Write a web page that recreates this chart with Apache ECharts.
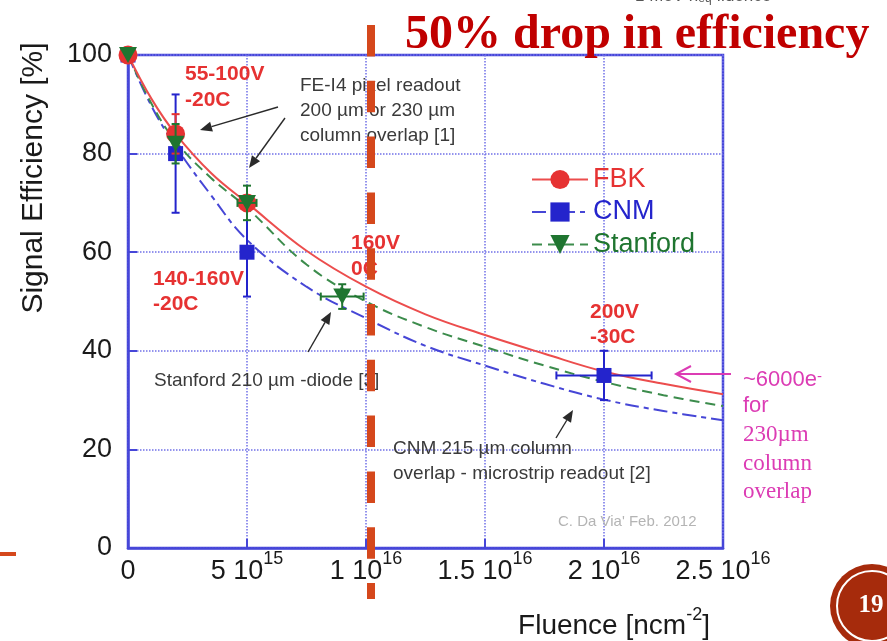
<!DOCTYPE html>
<html><head><meta charset="utf-8">
<script src="https://cdn.jsdelivr.net/npm/echarts@6/dist/echarts.min.js"></script>
<style>html,body{margin:0;padding:0;background:#fff}#c{width:887px;height:641px}</style>
</head><body><div id="c"></div>
<script>
// ---- axis ticks ----
const xTicks = [0, 5e15, 1e16, 1.5e16, 2e16, 2.5e16];
const xTickMantissa = ['0', '5', '1', '1.5', '2', '2.5'];
const xTickExponent = ['', '15', '16', '16', '16', '16'];
const yTicks = [0, 20, 40, 60, 80, 100];

// ---- fitted curves ----
const fitX        = [0, 1e15, 2e15, 3.5e15, 5e15, 7.5e15, 1e16, 1.25e16, 1.5e16, 1.75e16, 2e16, 2.25e16, 2.5e16];
const fbkFit      = [100, 91, 84, 76, 70, 60.3, 53, 47.4, 43.2, 39.4, 35.8, 33.3, 31.2];
const stanfordFit = [100, 90, 82.5, 75, 69, 57.5, 50, 44.8, 40.8, 37, 33.7, 31, 28.8];
const cnmFit      = [100, 89.5, 81.5, 71.5, 62.5, 53, 46.6, 41, 37, 33.3, 30.1, 27.8, 25.9];

// ---- measured points ----
const fbkX = [0, 2e15, 5e15];
const fbkY = [100, 84, 70];
const fbkYErr = [0, 4, 0];
const fbkXErr = [0, 0, 0];

const cnmX = [0, 2e15, 5e15, 2e16];
const cnmY = [100, 80, 60, 35];
const cnmYErr = [0, 12, 9, 5];
const cnmXErr = [0, 0, 2.5e14, 2e15];

const stanX = [0, 2e15, 5e15, 9e15];
const stanY = [100, 82, 70, 51];
const stanYErr = [0, 4, 3.5, 2.5];
const stanXErr = [0, 0, 4e14, 9e14];

const SANS = '"Liberation Sans", Arial, sans-serif';
const SERIF = '"Liberation Serif", "Times New Roman", serif';
const RED = '#e63232', BLUE = '#2424cc', GREEN = '#1f7530';
const FIT_RED = '#ec4d4d', FIT_BLUE = '#4646d6', FIT_GREEN = '#3c8c4c';
const AXIS = '#4646d8', GRIDC = '#7070e8';
const ORANGE = '#d5481c', MAGENTA = '#dc3cb4', NOTE = '#3a3a3a';

const zip = (xs, ys) => xs.map((x, i) => [x, ys[i]]);
const zip4 = (xs, ys, ey, ex) => xs.map((x, i) => [x, ys[i], ey[i], ex[i]]);

function errorBars(color) {
  return function (params, api) {
    const x = api.value(0), y = api.value(1), ey = api.value(2), ex = api.value(3);
    const c = api.coord([x, y]);
    const kids = [];
    const cap = 4;
    const st = { stroke: color, lineWidth: 2 };
    if (ey > 0) {
      const t = api.coord([x, y + ey]), b = api.coord([x, y - ey]);
      kids.push({ type: 'line', shape: { x1: c[0], y1: t[1], x2: c[0], y2: b[1] }, style: st });
      kids.push({ type: 'line', shape: { x1: c[0] - cap, y1: t[1], x2: c[0] + cap, y2: t[1] }, style: st });
      kids.push({ type: 'line', shape: { x1: c[0] - cap, y1: b[1], x2: c[0] + cap, y2: b[1] }, style: st });
    }
    if (ex > 0) {
      const l = api.coord([x - ex, y]), r = api.coord([x + ex, y]);
      kids.push({ type: 'line', shape: { x1: l[0], y1: c[1], x2: r[0], y2: c[1] }, style: st });
      kids.push({ type: 'line', shape: { x1: l[0], y1: c[1] - cap, x2: l[0], y2: c[1] + cap }, style: st });
      kids.push({ type: 'line', shape: { x1: r[0], y1: c[1] - cap, x2: r[0], y2: c[1] + cap }, style: st });
    }
    return { type: 'group', children: kids };
  };
}

function arrow(x1, y1, x2, y2, color, len, half, open) {
  const a = Math.atan2(y2 - y1, x2 - x1);
  const bx = x2 - len * Math.cos(a), by = y2 - len * Math.sin(a);
  const px = -Math.sin(a) * half, py = Math.cos(a) * half;
  const items = [];
  items.push({ type: 'line', shape: { x1, y1, x2: open ? x2 : bx, y2: open ? y2 : by }, style: { stroke: color, lineWidth: open ? 2 : 1.4 }, z: 50 });
  if (open) {
    items.push({ type: 'polyline', shape: { points: [[bx + px, by + py], [x2, y2], [bx - px, by - py]] }, style: { stroke: color, lineWidth: 2, fill: null }, z: 50 });
  } else {
    items.push({ type: 'polygon', shape: { points: [[x2, y2], [bx + px, by + py], [bx - px, by - py]] }, style: { fill: color }, z: 50 });
  }
  return items;
}

function txt(x, y, text, font, fill, extra) {
  return Object.assign({ type: 'text', x, y, z: 40, style: Object.assign({ text, font, fill, align: 'left', verticalAlign: 'middle' }, extra || {}) });
}

const triDown = 'path://M0,0 L10,0 L5,9 Z';

const graphics = [
  // title
  txt(405, 36, '50% drop in efficiency', 'bold 48px ' + SERIF, '#c00000'),
  { type: 'text', x: 635, y: -4, z: 40, style: { text: '1 MeV n{s|eq} fluence', font: '17px ' + SANS, fill: '#555', verticalAlign: 'middle', rich: { s: { fontSize: 12, fill: '#555', verticalAlign: 'bottom', lineHeight: 10, padding: [0, 0, 0, 0] } } } },
  // axis titles
  { type: 'text', x: 34, y: 178, rotation: Math.PI / 2, z: 40, style: { text: 'Signal Efficiency [%]', font: '30px ' + SANS, fill: '#1a1a1a', align: 'center', verticalAlign: 'middle' } },
  { type: 'text', x: 614, y: 626, z: 40, style: { text: '{b|Fluence [ncm}{s|-2}{b|]}', align: 'center', verticalAlign: 'middle', rich: { b: { fontSize: 28, fontFamily: SANS, fill: '#1a1a1a', lineHeight: 40 }, s: { fontSize: 18, fontFamily: SANS, fill: '#1a1a1a', verticalAlign: 'top', lineHeight: 18 } } } },
  // red condition labels
  txt(185, 74, '55-100V', 'bold 21px ' + SANS, RED),
  txt(185, 100, '-20C', 'bold 21px ' + SANS, RED),
  txt(153, 279, '140-160V', 'bold 21px ' + SANS, RED),
  txt(153, 304, '-20C', 'bold 21px ' + SANS, RED),
  txt(351, 243, '160V', 'bold 21px ' + SANS, RED),
  txt(351, 269, '0C', 'bold 21px ' + SANS, RED),
  txt(590, 312, '200V', 'bold 21px ' + SANS, RED),
  txt(590, 337, '-30C', 'bold 21px ' + SANS, RED),
  // notes
  txt(300, 86, 'FE-I4 pixel readout', '19px ' + SANS, NOTE),
  txt(300, 111, '200 \u00b5m or 230 \u00b5m', '19px ' + SANS, NOTE),
  txt(300, 136, 'column overlap [1]', '19px ' + SANS, NOTE),
  txt(154, 381, 'Stanford 210 \u00b5m -diode [3]', '19px ' + SANS, NOTE),
  txt(393, 449, 'CNM 215 \u00b5m column', '19px ' + SANS, NOTE),
  txt(393, 474, 'overlap - microstrip readout [2]', '19px ' + SANS, NOTE),
  txt(558, 522, "C. Da Via' Feb. 2012", '15px ' + SANS, '#b4b4b4'),
  // magenta notes
  { type: 'text', x: 743, y: 380, z: 40, style: { text: '~6000e{s|-}', font: '22px ' + SANS, fill: MAGENTA, verticalAlign: 'middle', rich: { s: { fontSize: 15, fill: MAGENTA, verticalAlign: 'top', lineHeight: 12 } } } },
  txt(743, 406, 'for', '22px ' + SANS, MAGENTA),
  txt(743, 435, '230\u00b5m', '23px ' + SERIF, MAGENTA),
  txt(743, 464, 'column', '23px ' + SERIF, MAGENTA),
  txt(743, 492, 'overlap', '23px ' + SERIF, MAGENTA),
  ...arrow(731, 374, 676, 374, MAGENTA, 15, 8, true),
  // black arrows
  ...arrow(278, 107, 200, 130, '#2a2a2a', 12, 5, false),
  ...arrow(285, 118, 249, 168, '#2a2a2a', 12, 5, false),
  ...arrow(308, 352, 331, 312, '#2a2a2a', 12, 5, false),
  ...arrow(556, 438, 573, 410, '#2a2a2a', 12, 5, false),
  // slide decorations
  { type: 'line', z: 100, shape: { x1: 371, y1: 25, x2: 371, y2: 599 }, style: { stroke: ORANGE, lineWidth: 8, lineDash: [31.5, 24.3] } },
  { type: 'line', z: 100, shape: { x1: 0, y1: 554, x2: 16, y2: 554 }, style: { stroke: ORANGE, lineWidth: 4 } },
  { type: 'circle', z: 100, shape: { cx: 872, cy: 606, r: 42 }, style: { fill: '#a62b0c' } },
  { type: 'circle', z: 101, shape: { cx: 872, cy: 606, r: 35 }, style: { fill: null, stroke: '#fff', lineWidth: 2 } },
  { type: 'text', z: 102, x: 871, y: 606, style: { text: '19', font: 'bold 25px ' + SERIF, fill: '#fff', align: 'center', verticalAlign: 'middle' } }
];

function xLabel(v) {
  let i = xTicks.findIndex(t => Math.abs(t - v) < 1e12);
  if (i < 0) return '';
  return xTickExponent[i] ? '{b|' + xTickMantissa[i] + ' 10}{s|' + xTickExponent[i] + '}' : '{b|' + xTickMantissa[i] + '}';
}

const chart = echarts.init(document.getElementById('c'));
chart.setOption({
  animation: false,
  backgroundColor: '#fff',
  grid: { left: 128, top: 55, width: 595, height: 493, show: true, borderColor: AXIS, borderWidth: 2.5, backgroundColor: 'transparent' },
  legend: {
    orient: 'vertical', left: 526, top: 161, itemWidth: 56, itemHeight: 24, itemGap: 5.5,
    textStyle: { fontSize: 27, fontFamily: SANS, lineHeight: 27, padding: [0, 0, 0, 0] },
    data: [
      { name: 'FBK', textStyle: { color: RED } },
      { name: 'CNM', textStyle: { color: BLUE } },
      { name: 'Stanford', textStyle: { color: GREEN } }
    ]
  },
  xAxis: {
    type: 'value', min: 0, max: 2.5e16, interval: 5e15,
    axisLine: { show: true, lineStyle: { color: AXIS, width: 2.5 } },
    axisTick: { show: true, inside: true, length: 9, lineStyle: { color: AXIS, width: 2 } },
    splitLine: { show: true, lineStyle: { type: 'dotted', color: GRIDC, width: 1.5 } },
    axisLabel: {
      margin: 2, formatter: xLabel,
      rich: {
        b: { fontSize: 27, fontFamily: SANS, color: '#1a1a1a', lineHeight: 44 },
        s: { fontSize: 18, fontFamily: SANS, color: '#1a1a1a', verticalAlign: 'top', lineHeight: 18 }
      }
    }
  },
  yAxis: {
    type: 'value', min: 0, max: 100, interval: 20,
    axisLine: { show: true, lineStyle: { color: AXIS, width: 2.5 } },
    axisTick: { show: true, inside: true, length: 9, lineStyle: { color: AXIS, width: 2 } },
    splitLine: { show: true, lineStyle: { type: 'dotted', color: GRIDC, width: 1.5 } },
    axisLabel: { margin: 16, fontSize: 27, fontFamily: SANS, color: '#1a1a1a',
      formatter: v => (yTicks.indexOf(v) >= 0 ? String(v) : '') }
  },
  series: [
    { name: 'CNM', type: 'line', data: zip(fitX, cnmFit), smooth: 0.4, showSymbol: false, symbol: 'rect', z: 2,
      itemStyle: { color: BLUE }, lineStyle: { color: FIT_BLUE, width: 2, type: [14, 5, 5, 5] } },
    { name: 'Stanford', type: 'line', data: zip(fitX, stanfordFit), smooth: 0.4, showSymbol: false, symbol: triDown, z: 2,
      itemStyle: { color: GREEN }, lineStyle: { color: FIT_GREEN, width: 2, type: [10, 6] } },
    { name: 'FBK', type: 'line', data: zip(fitX, fbkFit), smooth: 0.4, showSymbol: false, symbol: 'circle', z: 2,
      itemStyle: { color: RED }, lineStyle: { color: FIT_RED, width: 2, type: 'solid' } },

    { name: 'CNM err', type: 'custom', renderItem: errorBars(BLUE), data: zip4(cnmX, cnmY, cnmYErr, cnmXErr), encode: { x: 0, y: 1 }, z: 3 },
    { name: 'CNM pts', type: 'scatter', data: zip(cnmX, cnmY), symbol: 'rect', symbolSize: 15, itemStyle: { color: BLUE, opacity: 1 }, z: 4 },
    { name: 'FBK err', type: 'custom', renderItem: errorBars(RED), data: zip4(fbkX, fbkY, fbkYErr, fbkXErr), encode: { x: 0, y: 1 }, z: 5 },
    { name: 'FBK pts', type: 'scatter', data: zip(fbkX, fbkY), symbol: 'circle', symbolSize: 19, itemStyle: { color: RED, opacity: 1 }, z: 6 },
    { name: 'Stanford err', type: 'custom', renderItem: errorBars(GREEN), data: zip4(stanX, stanY, stanYErr, stanXErr), encode: { x: 0, y: 1 }, z: 7 },
    { name: 'Stanford pts', type: 'scatter', data: zip(stanX, stanY), symbol: triDown, symbolSize: [18, 16], itemStyle: { color: GREEN, opacity: 1 }, z: 8 }
  ],
  graphic: graphics
});
</script></body></html>
